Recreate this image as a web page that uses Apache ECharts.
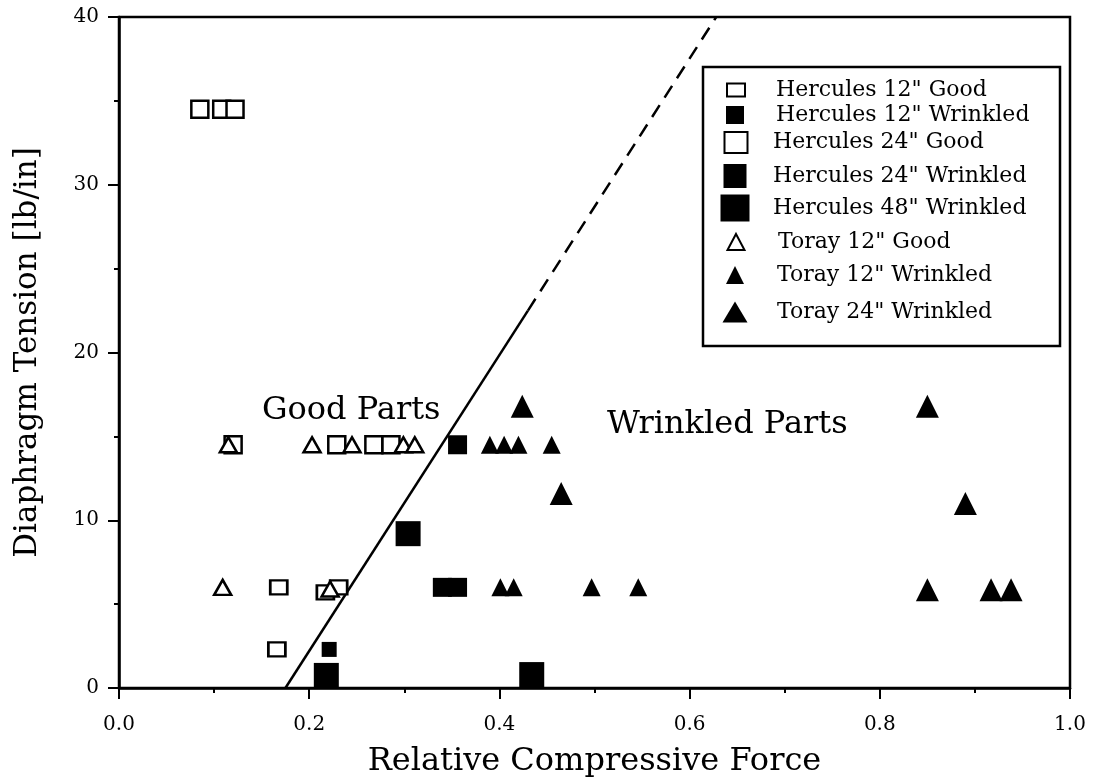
<!DOCTYPE html>
<html>
<head>
<meta charset="utf-8">
<script src="https://cdn.jsdelivr.net/npm/echarts@6/dist/echarts.min.js"></script>
<style>
  html, body { margin: 0; padding: 0; background: #ffffff; }
  #chart { width: 1098px; height: 784px; }
</style>
</head>
<body>
<div id="chart"></div>
<script>
// Diaphragm tension vs. relative compressive force, by material and part size

const seriesNames = [
  'Hercules 12" Good',
  'Hercules 12" Wrinkled',
  'Hercules 24" Good',
  'Hercules 24" Wrinkled',
  'Hercules 48" Wrinkled',
  'Toray 12" Good',
  'Toray 12" Wrinkled',
  'Toray 24" Wrinkled'
];

// Hercules 12" Good
const h12GoodX = [0.166, 0.168, 0.217, 0.231];
const h12GoodY = [2.3, 6.0, 5.7, 6.0];
// Hercules 12" Wrinkled
const h12WrinkledX = [0.221];
const h12WrinkledY = [2.3];
// Hercules 24" Good
const h24GoodX = [0.085, 0.108, 0.122, 0.120, 0.229, 0.268, 0.286];
const h24GoodY = [34.5, 34.5, 34.5, 14.5, 14.5, 14.5, 14.5];
// Hercules 24" Wrinkled
const h24WrinkledX = [0.356, 0.340, 0.356];
const h24WrinkledY = [14.5, 6.0, 6.0];
// Hercules 48" Wrinkled
const h48WrinkledX = [0.304, 0.218, 0.434];
const h48WrinkledY = [9.2, 0.75, 0.8];
// Toray 12" Good
const t12GoodX = [0.115, 0.203, 0.245, 0.299, 0.311, 0.109, 0.222];
const t12GoodY = [14.5, 14.5, 14.5, 14.5, 14.5, 6.0, 5.9];
// Toray 12" Wrinkled
const t12WrinkledX = [0.390, 0.405, 0.420, 0.455, 0.401, 0.415, 0.497, 0.546];
const t12WrinkledY = [14.5, 14.5, 14.5, 14.5, 6.0, 6.0, 6.0, 6.0];
// Toray 24" Wrinkled
const t24WrinkledX = [0.424, 0.465, 0.850, 0.890, 0.850, 0.917, 0.938];
const t24WrinkledY = [16.8, 11.6, 16.8, 11.0, 5.85, 5.85, 5.85];

// Boundary between good and wrinkled parts: measured (solid) and extrapolated (dashed)
const boundarySolidX = [0.175, 0.43];
const boundarySolidY = [0, 22.5];
const boundaryDashX = [0.43, 0.628];
const boundaryDashY = [22.5, 40];

// Region labels
const regionLabels = ['Good Parts', 'Wrinkled Parts'];

// Axis ranges
const xRange = [0, 1];
const yRange = [0, 40];

const FONT = '"DejaVu Serif", "Liberation Serif", serif';
const INK = '#000000';

function pairs(xs, ys) { return xs.map((x, i) => [x, ys[i]]); }

const openStyle = { color: '#ffffff', borderColor: INK, borderWidth: 2.5, opacity: 1 };
const fillStyle = { color: INK, borderColor: INK, borderWidth: 0, opacity: 1 };

const scatterDefs = [
  { data: pairs(h12GoodX, h12GoodY), symbol: 'rect', size: [17, 14], style: openStyle },
  { data: pairs(h12WrinkledX, h12WrinkledY), symbol: 'rect', size: [15, 15], style: fillStyle },
  { data: pairs(h24GoodX, h24GoodY), symbol: 'rect', size: [17, 17], style: openStyle },
  { data: pairs(h24WrinkledX, h24WrinkledY), symbol: 'rect', size: [19, 19], style: fillStyle },
  { data: pairs(h48WrinkledX, h48WrinkledY), symbol: 'rect', size: [25, 25], style: fillStyle },
  { data: pairs(t12GoodX, t12GoodY), symbol: 'triangle', size: [17, 15], style: openStyle },
  { data: pairs(t12WrinkledX, t12WrinkledY), symbol: 'triangle', size: [18, 18], style: fillStyle },
  { data: pairs(t24WrinkledX, t24WrinkledY), symbol: 'triangle', size: [23, 23], style: fillStyle }
];

const series = scatterDefs.map((d, i) => ({
  name: seriesNames[i],
  type: 'scatter',
  data: d.data,
  symbol: d.symbol,
  symbolSize: d.size,
  itemStyle: d.style,
  z: 3,
  silent: true
}));

series.push({
  type: 'line',
  data: pairs(boundarySolidX, boundarySolidY),
  showSymbol: false,
  symbol: 'none',
  lineStyle: { color: INK, width: 2.5, opacity: 1 },
  z: 2,
  silent: true
});
series.push({
  type: 'line',
  data: pairs(boundaryDashX, boundaryDashY),
  showSymbol: false,
  symbol: 'none',
  lineStyle: { color: INK, width: 2.5, opacity: 1, type: [14, 9] },
  z: 2,
  silent: true
});

// Legend rows: icon box size, row centre, text start
const legendRows = [
  { w: 18, h: 13, cy: 90, tx: 775 },
  { w: 18, h: 18, cy: 115, tx: 776 },
  { w: 23, h: 21, cy: 142, tx: 772 },
  { w: 23, h: 24, cy: 176, tx: 773 },
  { w: 29, h: 27, cy: 208, tx: 773 },
  { w: 17, h: 16, cy: 242, tx: 777 },
  { w: 18, h: 18, cy: 275, tx: 777 },
  { w: 25, h: 21, cy: 312, tx: 777 }
];
const ICON_CX = 735;
const LEGEND_FS = 22;

const legends = legendRows.map((r, i) => {
  const boxH = Math.max(r.h, LEGEND_FS);
  return {
    data: [seriesNames[i]],
    left: ICON_CX - r.w / 2,
    top: r.cy - boxH / 2,
    padding: 0,
    itemWidth: r.w,
    itemHeight: r.h,
    selectedMode: false,
    orient: 'vertical',
    textStyle: {
      fontFamily: FONT,
      fontSize: LEGEND_FS,
      color: INK,
      padding: [2, 0, 0, r.tx - (ICON_CX + r.w / 2 + 5)]
    }
  };
});

const option = {
  backgroundColor: '#ffffff',
  animation: false,
  grid: {
    left: 119, right: 28, top: 17, bottom: 96,
    show: true, borderColor: INK, borderWidth: 2.5, backgroundColor: 'transparent'
  },
  legend: legends,
  xAxis: {
    type: 'value',
    min: xRange[0], max: xRange[1], interval: 0.2,
    axisLine: { show: true, onZero: false, lineStyle: { color: INK, width: 2.5 } },
    axisTick: { show: true, length: 11, lineStyle: { color: INK, width: 2 } },
    minorTick: { show: true, splitNumber: 2, length: 5, lineStyle: { color: INK, width: 2 } },
    splitLine: { show: false },
    minorSplitLine: { show: false },
    axisLabel: {
      formatter: v => v.toFixed(1),
      fontFamily: FONT, fontSize: 20, color: INK, margin: 27
    },
    name: 'Relative Compressive Force',
    nameLocation: 'middle',
    nameGap: 58,
    nameTextStyle: { fontFamily: FONT, fontSize: 32, color: INK }
  },
  yAxis: {
    type: 'value',
    min: yRange[0], max: yRange[1], interval: 10,
    axisLine: { show: true, onZero: false, lineStyle: { color: INK, width: 2.5 } },
    axisTick: { show: true, length: 11, lineStyle: { color: INK, width: 2 } },
    minorTick: { show: true, splitNumber: 2, length: 5, lineStyle: { color: INK, width: 2 } },
    splitLine: { show: false },
    minorSplitLine: { show: false },
    axisLabel: { fontFamily: FONT, fontSize: 20, color: INK, margin: 20 },
    name: 'Diaphragm Tension [lb/in]',
    nameLocation: 'middle',
    nameRotate: 90,
    nameGap: 76,
    nameTextStyle: { fontFamily: FONT, fontSize: 31, color: INK }
  },
  graphic: [
    {
      type: 'rect',
      shape: { x: 703, y: 67, width: 357, height: 279 },
      style: { fill: '#ffffff', stroke: INK, lineWidth: 2.5 },
      z: 1,
      silent: true
    },
    {
      type: 'text', x: 262, y: 395,
      style: { text: regionLabels[0], font: '32px ' + FONT, fill: INK },
      silent: true
    },
    {
      type: 'text', x: 607, y: 409,
      style: { text: regionLabels[1], font: '32px ' + FONT, fill: INK },
      silent: true
    }
  ],
  series: series
};

const chart = echarts.init(document.getElementById('chart'), null, { renderer: 'canvas' });
chart.setOption(option);
</script>
</body>
</html>
